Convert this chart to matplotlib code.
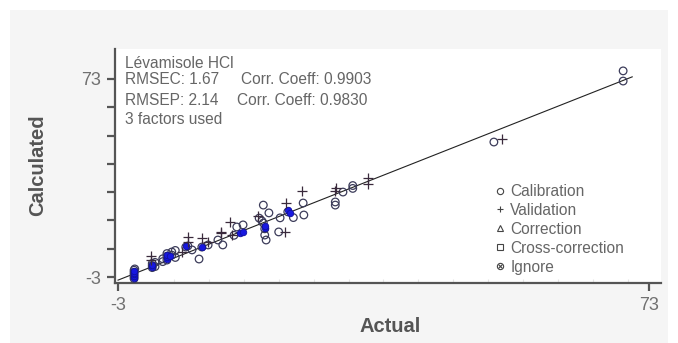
import matplotlib
matplotlib.use("Agg")
import matplotlib.pyplot as plt
from matplotlib.lines import Line2D
from matplotlib.patches import Rectangle
from matplotlib.legend_handler import HandlerTuple
import numpy as np

plt.rcParams['font.family'] = ['Liberation Sans', 'DejaVu Sans']

# calibration samples (actual, calculated)
cal_actual = [-0.7, -0.7, -0.7, -0.7, -0.7, -0.6,
              1.9, 1.9, 1.9, 2.3, 2.3,
              3.4, 3.4, 4.0, 4.0, 4.0, 4.7, 4.7, 5.2, 5.2,
              6.7, 7.0, 7.6, 8.6, 9.0, 9.9, 11.3, 12.0,
              13.6, 14.0, 14.9,
              17.6, 17.8, 18.6, 17.2, 17.8, 18.0, 18.2, 18.0,
              20.2, 20.0, 21.3, 22.1, 23.6, 23.5,
              28.1, 28.1, 29.2, 30.6, 30.6,
              50.8, 69.3, 69.3]
cal_calc = [-3.6, -2.8, -2.0, -1.2, -0.4, 0.1,
            0.6, 1.4, 2.2, 1.0, 2.6,
            2.9, 4.0, 3.5, 5.0, 6.0, 6.6, 5.4, 4.5, 7.2,
            8.5, 8.9, 7.4, 3.9, 8.5, 9.3, 11.2, 9.3,
            13.0, 16.2, 17.0,
            18.5, 24.6, 21.6, 19.6, 17.7, 13.1, 11.2, 15.5,
            19.7, 14.3, 22.0, 19.8, 20.8, 25.4,
            24.6, 25.8, 29.6, 31.0, 32.1,
            48.8, 72.2, 76.1]

# validation samples
val_actual = [1.7, 1.7, 6.2, 7.0, 7.0, 9.0, 9.9, 11.7, 11.7, 13.0, 13.3,
              17.0, 20.9, 21.0, 23.3, 28.2, 28.0, 32.8, 32.8, 52.0]
val_calc = [5.1, 3.5, 6.6, 10.4, 12.4, 12.0, 10.4, 14.3, 13.9, 18.1, 13.1,
            20.5, 14.3, 25.4, 30.0, 31.2, 30.0, 35.0, 32.7, 50.0]

# highlighted (overlapping) samples
sel_actual = [-0.7, -0.7, -0.7, -0.7, -0.7, 1.9, 1.9, 4.0, 4.0, 4.0, 4.4,
              6.7, 9.0, 14.5, 14.9, 18.0, 18.0, 21.3, 21.6]
sel_calc = [-3.5, -2.8, -2.0, -1.3, -0.6, 1.0, 1.6, 3.8, 4.6, 5.4, 5.0,
            8.9, 8.5, 14.0, 14.3, 15.8, 16.5, 22.7, 21.6]

fit_range = [-3.0, 70.6]
fit_slope = 1.06
fit_intercept = -1.02

tick_vals = [-3, 73]
label_lines = ["Lévamisole HCl", "RMSEC: 1.67", "RMSEP: 2.14", "3 factors used"]
coeff_lines = ["Corr. Coeff: 0.9903", "Corr. Coeff: 0.9830"]
legend_names = ["Calibration", "Validation", "Correction", "Cross-correction", "Ignore"]

W, H = 678, 343
fig = plt.figure(figsize=(W / 100, H / 100), dpi=100)
fig.patch.set_facecolor('white')
fig.patches.append(Rectangle((10 / W, 0), 658 / W, 333 / H, transform=fig.transFigure,
                             facecolor='#f5f5f5', edgecolor='none', zorder=-10))

left, right, top, bottom = 115, 661, 49, 283
ax = fig.add_axes([left / W, (H - bottom) / H, (right - left) / W, (bottom - top) / H])
ax.set_facecolor('white')
ax.set_xlim(-3.43, 74.72)
ax.set_ylim(-5.30, 84.5)

for side in ['top', 'right']:
    ax.spines[side].set_visible(False)
for side in ['left', 'bottom']:
    ax.spines[side].set_color('#555555')
    ax.spines[side].set_linewidth(1.6)

ax.set_xticks(tick_vals)
ax.set_xticklabels([str(v) for v in tick_vals])
ax.set_xticks(np.arange(5, 71, 5), minor=True)
yt = np.linspace(tick_vals[0], tick_vals[1], 8)
ax.set_yticks(yt)
ax.set_yticklabels([str(tick_vals[0])] + [''] * 6 + [str(tick_vals[1])])
ax.tick_params(axis='both', which='major', direction='out', length=6, width=1.6,
               color='#555555', labelcolor='#707070', labelsize=13, pad=4)
ax.tick_params(axis='x', which='minor', direction='in', length=3, width=0.8, color='#e6e6e6')

# regression line
fx = np.array(fit_range)
ax.plot(fx, fit_intercept + fit_slope * fx, color='#222222', lw=0.8, zorder=2)

ax.scatter(cal_actual, cal_calc, s=30, facecolors='none', edgecolors='#3c3c5a',
           linewidths=0.9, zorder=3)
ax.scatter(sel_actual, sel_calc, s=22, facecolors='#1818e0', edgecolors='#1010a0',
           linewidths=0.6, zorder=4)
ax.scatter(val_actual, val_calc, s=45, marker='+', color='#3a2a3c', linewidths=0.9, zorder=5)

ax.set_xlabel("Actual", fontsize=14.5, fontweight='bold', color='#555555', va='center')
ax.xaxis.set_label_coords((390 - left) / (right - left), (bottom - 327) / (bottom - top))
ax.set_ylabel("Calculated", fontsize=14.5, fontweight='bold', color='#555555', va='center')
ax.yaxis.set_label_coords((38 - left) / (right - left), (bottom - 165) / (bottom - top))

# info text block
def px(x, y):
    return x / W, (H - y) / H

for txt, y in zip(label_lines, [63, 80, 101, 119]):
    fig.text(*px(125, y), txt, fontsize=11.2, color='#666666', va='center', ha='left')
for txt, (x, y) in zip(coeff_lines, [(241, 80), (237, 101)]):
    fig.text(*px(x, y), txt, fontsize=11.2, color='#666666', va='center', ha='left')

mk = dict(color='#444444', linestyle='none', markersize=4.5, markerfacecolor='none',
          markeredgewidth=0.8)
handles = [
    Line2D([], [], marker='o', **mk),
    Line2D([], [], marker='+', **mk),
    Line2D([], [], marker='^', **mk),
    Line2D([], [], marker='s', **mk),
    (Line2D([], [], marker='o', **mk), Line2D([], [], marker='x', **dict(mk, markersize=3.0))),
]
leg = ax.legend(handles, legend_names, loc='upper left',
                bbox_to_anchor=px(494, 184), bbox_transform=fig.transFigure,
                frameon=False, fontsize=11.2, handlelength=0.8, handletextpad=0.25,
                labelspacing=0.25, borderpad=0, borderaxespad=0,
                handler_map={tuple: HandlerTuple(ndivide=1, pad=0)})
for t in leg.get_texts():
    t.set_color('#666666')

fig.savefig("out.png", dpi=100, facecolor=fig.get_facecolor())
